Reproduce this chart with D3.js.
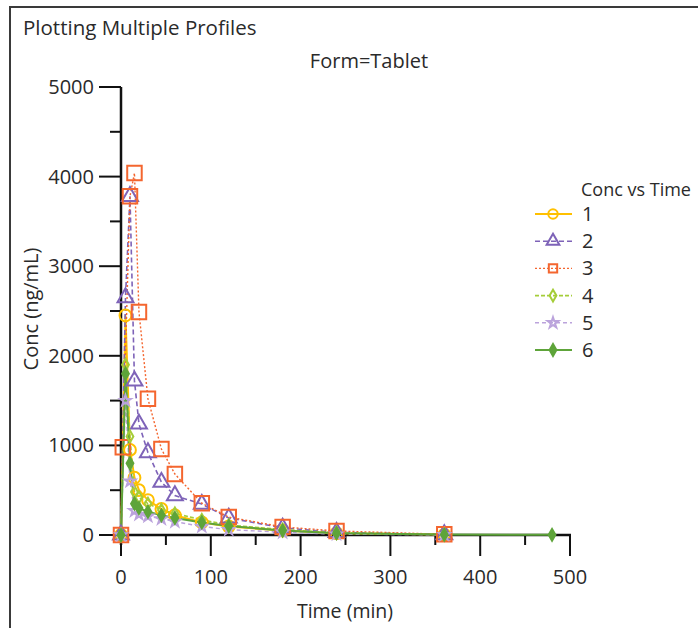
<!DOCTYPE html>
<html><head><meta charset="utf-8">
<script src="https://cdn.jsdelivr.net/npm/d3@7"></script>
<style>body{margin:0;background:#fff;} svg{display:block;} text{font-family:"Open Sans","Noto Sans",sans-serif;fill:#2a2a2a;}</style>
</head><body>
<script>
const chartTitle = "Plotting Multiple Profiles";
const panelTitle = "Form=Tablet";
const legendTitle = "Conc vs Time";
const xTicks = [0,100,200,300,400,500];
const yTicks = [0,1000,2000,3000,4000,5000];
const subjects = ["1","2","3","4","5","6"];
const time1 = [0,5,10,15,20,30,45,60,90,120,180,240,360];
const conc1 = [0,2450,950,640,500,390,290,220,140,95,50,20,5];
const time2 = [0,5,10,15,20,30,45,60,90,120,180,240,360];
const conc2 = [0,2650,3780,1720,1240,920,590,440,345,190,80,30,5];
const time3 = [0,2,10,15,20,30,45,60,90,120,180,240,360];
const conc3 = [0,980,3780,4040,2490,1520,960,680,355,200,90,45,8];
const time4 = [0,5,10,15,20,30,45,60,90,120,180,240,360];
const conc4 = [0,1900,1100,480,420,350,280,240,170,110,60,25,5];
const time5 = [0,5,10,15,20,30,45,60,90,120,180,240,360];
const conc5 = [0,1500,600,270,230,210,180,150,95,60,30,10,2];
const time6 = [0,5,10,15,20,30,45,60,90,120,180,240,360,480];
const conc6 = [0,1800,800,350,300,260,220,190,140,100,50,20,5,2];

const times = [time1,time2,time3,time4,time5,time6];
const concs = [conc1,conc2,conc3,conc4,conc5,conc6];
const colors = ["#FFC000","#7E63B8","#F4662F","#A5CD39","#BBA3DC","#5EA43A"];
const dashes = [null,"5,3","2,2","4,2",  "4,3",null];
const widths = [2,1.6,1.4,1.6,1.4,2];
const shapes = [d3.symbolCircle,d3.symbolTriangle,d3.symbolSquare,d3.symbolDiamond,d3.symbolStar,d3.symbolDiamond];
const sizes = [110,110,210,40,35,40];
const filled = [false,false,false,false,false,true];

const W=698,H=628;
const svg=d3.select("body").append("svg").attr("width",W).attr("height",H);
svg.append("rect").attr("x",10).attr("y",7).attr("width",720).attr("height",660)
  .attr("fill","none").attr("stroke","#3a3a3a").attr("stroke-width",2);

svg.append("text").attr("x",23).attr("y",35).attr("font-size",20.5).text(chartTitle);
svg.append("text").attr("x",369).attr("y",68).attr("text-anchor","middle").attr("font-size",20).text(panelTitle);

const x=d3.scaleLinear().domain([0,500]).range([121,570]);
const y=d3.scaleLinear().domain([0,5000]).range([535,87]);

const gx=svg.append("g");
gx.selectAll("line.minor").data(d3.range(50,500,100)).join("line")
  .attr("x1",d=>x(d)).attr("x2",d=>x(d)).attr("y1",535).attr("y2",545).attr("stroke","#111").attr("stroke-width",2);
gx.selectAll("line.major").data(xTicks).join("line")
  .attr("x1",d=>x(d)).attr("x2",d=>x(d)).attr("y1",535).attr("y2",556).attr("stroke","#111").attr("stroke-width",2);
gx.selectAll("text").data(xTicks).join("text").attr("x",d=>x(d)).attr("y",584)
  .attr("text-anchor","middle").attr("font-size",20).text(d=>d);
const gy=svg.append("g");
gy.selectAll("line.minor").data(d3.range(500,5000,1000)).join("line")
  .attr("x1",110).attr("x2",121).attr("y1",d=>y(d)).attr("y2",d=>y(d)).attr("stroke","#111").attr("stroke-width",2);
gy.selectAll("line.major").data(yTicks).join("line")
  .attr("x1",99).attr("x2",121).attr("y1",d=>y(d)).attr("y2",d=>y(d)).attr("stroke","#111").attr("stroke-width",2);
gy.selectAll("text").data(yTicks).join("text").attr("x",94).attr("y",d=>y(d)+7)
  .attr("text-anchor","end").attr("font-size",20).text(d=>d);
svg.append("line").attr("x1",121).attr("x2",121).attr("y1",y(5000)).attr("y2",545).attr("stroke","#111").attr("stroke-width",2.5);
svg.append("line").attr("x1",113).attr("x2",x(500)+1).attr("y1",535).attr("y2",535).attr("stroke","#111").attr("stroke-width",2.5);

svg.append("text").attr("x",345).attr("y",618).attr("text-anchor","middle").attr("font-size",19.5).text("Time (min)");
svg.append("text").attr("transform","translate(38,309) rotate(-90)").attr("text-anchor","middle").attr("font-size",20).text("Conc (ng/mL)");

const line=d3.line().x(d=>x(d[0])).y(d=>y(d[1]));
subjects.forEach((s,i)=>{
  const pts=times[i].map((t,j)=>[t,concs[i][j]]);
  svg.append("path").datum(pts).attr("d",line).attr("fill","none").attr("stroke",colors[i])
    .attr("stroke-width",widths[i]).attr("stroke-dasharray",dashes[i]);
});
subjects.forEach((s,i)=>{
  const pts=times[i].map((t,j)=>[t,concs[i][j]]);
  svg.append("g").selectAll("path").data(pts).join("path")
    .attr("transform",d=>`translate(${x(d[0])},${y(d[1])})`)
    .attr("d",d3.symbol().type(shapes[i]).size(sizes[i]))
    .attr("fill",filled[i]?colors[i]:"none").attr("stroke",colors[i]).attr("stroke-width",2);
});

svg.append("text").attr("x",581).attr("y",196).attr("font-size",18).text(legendTitle);
subjects.forEach((s,i)=>{
  const ly=214+i*27.2;
  svg.append("line").attr("x1",535).attr("x2",572).attr("y1",ly).attr("y2",ly).attr("stroke",colors[i])
    .attr("stroke-width",widths[i]).attr("stroke-dasharray",dashes[i]);
  svg.append("path").attr("transform",`translate(553,${ly})`).attr("d",d3.symbol().type(shapes[i]).size(Math.min(sizes[i],70)))
    .attr("fill",filled[i]?colors[i]:"none").attr("stroke",colors[i]).attr("stroke-width",2);
  svg.append("text").attr("x",582).attr("y",ly+7).attr("font-size",20).text(s);
});
</script>
</body></html>
